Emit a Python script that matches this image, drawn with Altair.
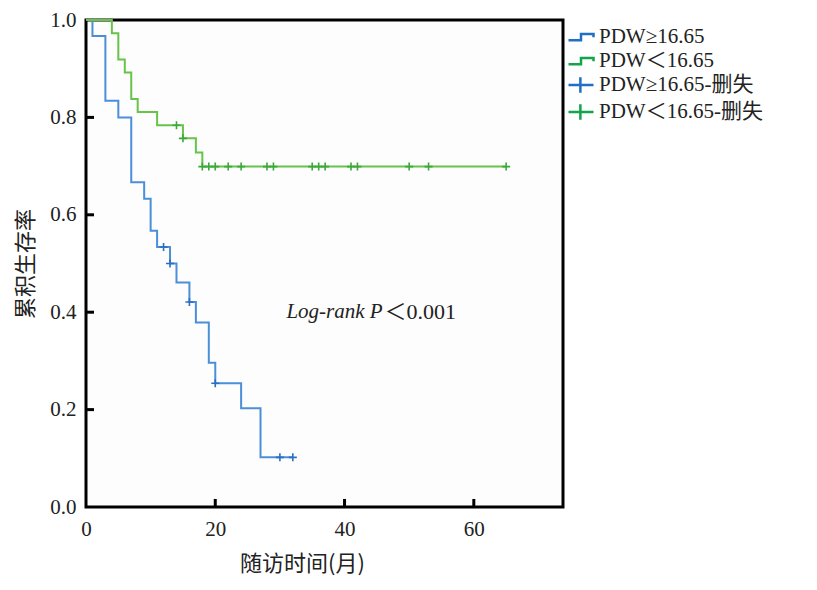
import altair as alt
import pandas as pd

# ---- data ----
blue_t = [0, 1, 3, 5, 7, 9, 10, 11, 13, 14, 16, 17, 19, 20, 24, 27, 32]
blue_s = [1.0, 0.967, 0.834, 0.800, 0.667, 0.633, 0.567, 0.534, 0.500, 0.461,
          0.421, 0.379, 0.296, 0.254, 0.203, 0.102, 0.102]
blue_cens_t = [12, 13, 16, 20, 30, 32]
blue_cens_s = [0.534, 0.500, 0.421, 0.254, 0.102, 0.102]

green_t = [0, 4, 5, 6, 7, 8, 11, 15, 17, 18, 65]
green_s = [1.0, 0.973, 0.919, 0.892, 0.838, 0.811, 0.784, 0.757, 0.728, 0.699, 0.699]
green_cens_t = [14, 15, 18, 19, 20, 22, 24, 28, 29, 35, 36, 37, 41, 42, 50, 53, 65]
green_cens_s = [0.784, 0.757, 0.699, 0.699, 0.699, 0.699, 0.699, 0.699, 0.699,
                0.699, 0.699, 0.699, 0.699, 0.699, 0.699, 0.699, 0.699]

x_ticks = [20, 40, 60]
y_ticks = [0.2, 0.4, 0.6, 0.8]

legend_labels = ["PDW≥16.65", "PDW＜16.65", "PDW≥16.65-删失", "PDW＜16.65-删失"]
legend_colors = ["#1f6fc4", "#12a44a", "#1f6fc4", "#12a44a"]
step_path = "M -1 0.25 L 0 0.25 L 0 -0.25 L 1 -0.25 L 1 0.02"
cross_path = "M -1 0 L 1 0 M -0.05 -0.62 L -0.05 0.62"
legend_shapes = [step_path, step_path, cross_path, cross_path]

annot_italic = "Log-rank P"
annot_plain = "＜0.001"

FONT = "Liberation Serif, Noto Sans CJK SC"
CJK = "Noto Sans CJK SC"

blue_df = pd.DataFrame({"t": blue_t, "s": blue_s})
green_df = pd.DataFrame({"t": green_t, "s": green_s})
blue_c = pd.DataFrame({"t": blue_cens_t, "s": blue_cens_s})
green_c = pd.DataFrame({"t": green_cens_t, "s": green_cens_s})

xscale = alt.Scale(domain=[0, 73.8], nice=False, zero=False)
yscale = alt.Scale(domain=[0, 1], nice=False)

xaxis = alt.Axis(values=[0, 20, 40, 60], format="d", domain=False, ticks=False, grid=False,
                 labelFlush=False, labelFont=FONT, labelFontSize=21, labelColor="#222", labelPadding=11,
                 title="随访时间(月)", titleFont=CJK, titleFontSize=22, titleFontWeight="normal",
                 titleColor="#222", titlePadding=14, titleX=216)
yaxis = alt.Axis(values=[0, 0.2, 0.4, 0.6, 0.8, 1.0], format=".1f", domain=False, ticks=False,
                 grid=False, labelFlush=False, labelFont=FONT, labelFontSize=21, labelColor="#222",
                 labelPadding=10,
                 title="累积生存率", titleFont=CJK, titleFontSize=22, titleFontWeight="normal",
                 titleColor="#222", titlePadding=12)

def X():
    return alt.X("t:Q", scale=xscale, axis=xaxis)

def Y():
    return alt.Y("s:Q", scale=yscale, axis=yaxis)

blue_line = alt.Chart(blue_df).mark_line(interpolate="step-after", color="#4a8fd8", strokeWidth=2).encode(x=X(), y=Y())
green_line = alt.Chart(green_df).mark_line(interpolate="step-after", color="#66c448", strokeWidth=2).encode(x=X(), y=Y())

blue_pts = alt.Chart(blue_c).mark_point(shape="M -1 0 L 1 0 M 0 -1 L 0 1", size=64, color="#2a6fc2",
                                        strokeWidth=1.6, filled=False, opacity=1).encode(x=X(), y=Y())
green_pts = alt.Chart(green_c).mark_point(shape="M -1 0 L 1 0 M 0 -1 L 0 1", size=64, color="#3aa83a",
                                          strokeWidth=1.6, filled=False, opacity=1).encode(x=X(), y=Y())

# inward ticks (8 px long)
xt = alt.Chart(pd.DataFrame({"t": x_ticks})).mark_rule(color="black", strokeWidth=3).encode(
    x=X(), y=alt.datum(0), y2=alt.datum(0.0165))
yt = alt.Chart(pd.DataFrame({"s": y_ticks})).mark_rule(color="black", strokeWidth=3).encode(
    y=Y(), x=alt.datum(0), x2=alt.datum(1.24))

ann1 = alt.Chart(pd.DataFrame({"t": [45.9], "s": [0.40], "txt": [annot_italic]})).mark_text(
    align="right", baseline="middle", font="Liberation Serif", fontStyle="italic", fontSize=21,
    color="#222").encode(x=X(), y=Y(), text="txt:N")
ann2 = alt.Chart(pd.DataFrame({"t": [46.2], "s": [0.40], "txt": [annot_plain]})).mark_text(
    align="left", baseline="middle", font=FONT, fontSize=22, color="#222").encode(x=X(), y=Y(), text="txt:N")

leg = alt.Chart(pd.DataFrame({"label": legend_labels})).mark_point(filled=False, opacity=0).encode(
    x=alt.value(-60), y=alt.value(-60),
    color=alt.Color("label:N", scale=alt.Scale(domain=legend_labels, range=legend_colors),
                    legend=alt.Legend(title=None, orient="none", legendX=481, legendY=3,
                                      labelFont=FONT, labelFontSize=21, labelColor="#222",
                                      symbolSize=625, symbolStrokeWidth=2.5, symbolOpacity=1,
                                      labelOffset=4, rowPadding=0, labelLimit=400)),
    shape=alt.Shape("label:N", scale=alt.Scale(domain=legend_labels, range=legend_shapes), legend=None),
)

chart = alt.layer(blue_line, green_line, blue_pts, green_pts, xt, yt, ann1, ann2, leg).properties(
    width=477, height=487,
    padding={"left": 78, "top": 12, "right": 240, "bottom": 70},
    autosize=alt.AutoSizeParams(type="none"),
    background="white",
).configure_view(stroke="black", strokeWidth=3, fill="#fdfdfd")

chart.save("out.html", embed_options={"renderer": "svg", "actions": False})
